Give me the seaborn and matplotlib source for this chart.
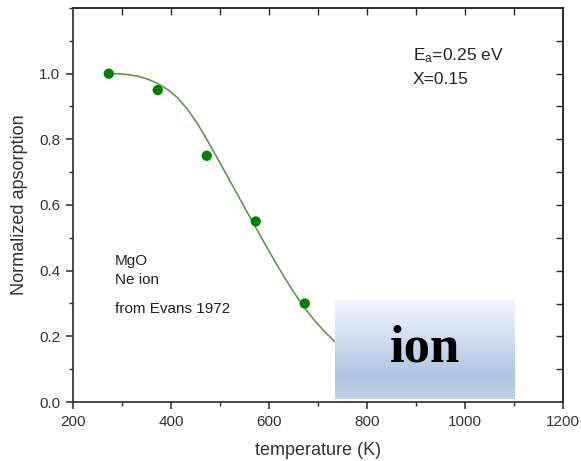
import numpy as np
import pandas as pd
import matplotlib
matplotlib.use("Agg")
import matplotlib.pyplot as plt
from matplotlib.colors import LinearSegmentedColormap
from matplotlib.ticker import MultipleLocator, NullLocator
import seaborn as sns

# ---- data ----
temperature = [273, 373, 473, 573, 673]
absorption = [1.0, 0.95, 0.75, 0.55, 0.30]

fit_temperature = [273, 293, 313, 333, 353, 373, 393, 413, 433, 453, 473, 493, 513, 533,
                   553, 573, 593, 613, 633, 653, 673, 693, 713, 733, 753, 773, 793]
fit_absorption = [1.0, 0.9995, 0.997, 0.992, 0.983, 0.970, 0.952, 0.927, 0.893, 0.850, 0.800,
                  0.747, 0.693, 0.639, 0.585, 0.531, 0.478, 0.426, 0.376, 0.329, 0.286,
                  0.248, 0.215, 0.186, 0.161, 0.139, 0.120]

x_ticks = [200, 400, 600, 800, 1000, 1200]
y_ticks = [0.0, 0.2, 0.4, 0.6, 0.8, 1.0]
y_tick_labels = ["0.0", "0.2", "0.4", "0.6", "0.8", "1.0"]

# ---- style ----
sns.set_style("ticks")
plt.rcParams["font.family"] = ["Liberation Sans", "DejaVu Sans"]
plt.rcParams["mathtext.fontset"] = "custom"
plt.rcParams["mathtext.rm"] = "Liberation Sans"
plt.rcParams["mathtext.it"] = "Liberation Sans"

fig = plt.figure(figsize=(5.81, 4.61), dpi=100)
ax = fig.add_axes([73 / 581, 59 / 461, 490 / 581, 394 / 461])

pts = pd.DataFrame({"T": temperature, "A": absorption})
fit = pd.DataFrame({"T": fit_temperature, "A": fit_absorption})

sns.lineplot(data=fit, x="T", y="A", ax=ax, color="#5e9a4e", linewidth=1.2, zorder=2)
sns.scatterplot(data=pts, x="T", y="A", ax=ax, color="#008000", s=55, edgecolor="none", zorder=3)

ax.set_xlim(200, 1200)
ax.set_ylim(0, 1.2)
ax.set_xticks(x_ticks)
ax.set_yticks(y_ticks)
ax.set_yticklabels(y_tick_labels)
ax.xaxis.set_minor_locator(MultipleLocator(100))
ax.yaxis.set_minor_locator(MultipleLocator(0.1))

ink = "#2a2a2a"
for s in ax.spines.values():
    s.set_visible(True)
    s.set_color(ink)
    s.set_linewidth(1.2)

ax.tick_params(axis="both", which="major", direction="out", length=5, width=1.1,
               color=ink, labelsize=11, labelcolor="#333333", pad=4,
               top=False, right=False)
ax.tick_params(axis="both", which="minor", direction="out", length=3, width=1.0, color=ink,
               top=False, right=False)

# inward ticks on top and right
top = ax.secondary_xaxis("top")
top.set_xticks(list(range(300, 1200, 100)))
top.xaxis.set_minor_locator(NullLocator())
top.tick_params(which="both", direction="in", length=5, width=1.0, color=ink, labeltop=False)
top.spines["top"].set_color(ink)
top.spines["top"].set_linewidth(1.2)
right = ax.secondary_yaxis("right")
right.set_yticks([round(0.1 * i, 1) for i in range(1, 12)])
right.yaxis.set_minor_locator(NullLocator())
right.tick_params(which="both", direction="in", length=5, width=1.0, color=ink, labelright=False)
right.spines["right"].set_color(ink)
right.spines["right"].set_linewidth(1.2)

ax.set_xlabel("temperature (K)", fontsize=13, color="#333333", labelpad=10)
ax.set_ylabel("Normalized apsorption", fontsize=13, color="#333333", labelpad=8)

# annotations
ax.text(894, 1.04, r"E$_\mathrm{a}$=0.25 eV", fontsize=12.5, color="#222222", va="baseline", ha="left")
ax.text(894, 0.969, "X=0.15", fontsize=12.5, color="#222222", va="baseline", ha="left")
ax.text(286, 0.417, "MgO", fontsize=11, color="#222222", va="baseline", ha="left")
ax.text(286, 0.360, "Ne ion", fontsize=11, color="#222222", va="baseline", ha="left")
ax.text(286, 0.272, "from Evans 1972", fontsize=11, color="#222222", va="baseline", ha="left")

# gradient box with "ion"
cmap = LinearSegmentedColormap.from_list(
    "box", [(0.0, "#c3d2e8"), (0.22, "#afc4e0"), (1.0, "#f3f6fb")])
grad = np.linspace(0, 1, 256).reshape(-1, 1)
ax.imshow(grad, cmap=cmap, origin="lower", aspect="auto",
          extent=(735, 1102, 0.01, 0.309), zorder=4)
ax.set_xlim(200, 1200)
ax.set_ylim(0, 1.2)
ax.text(918, 0.122, "ion", fontsize=38, fontweight="bold", family=["Liberation Serif", "DejaVu Serif"],
        color="black", ha="center", va="baseline", zorder=5)

fig.savefig("out.png", dpi=100)
